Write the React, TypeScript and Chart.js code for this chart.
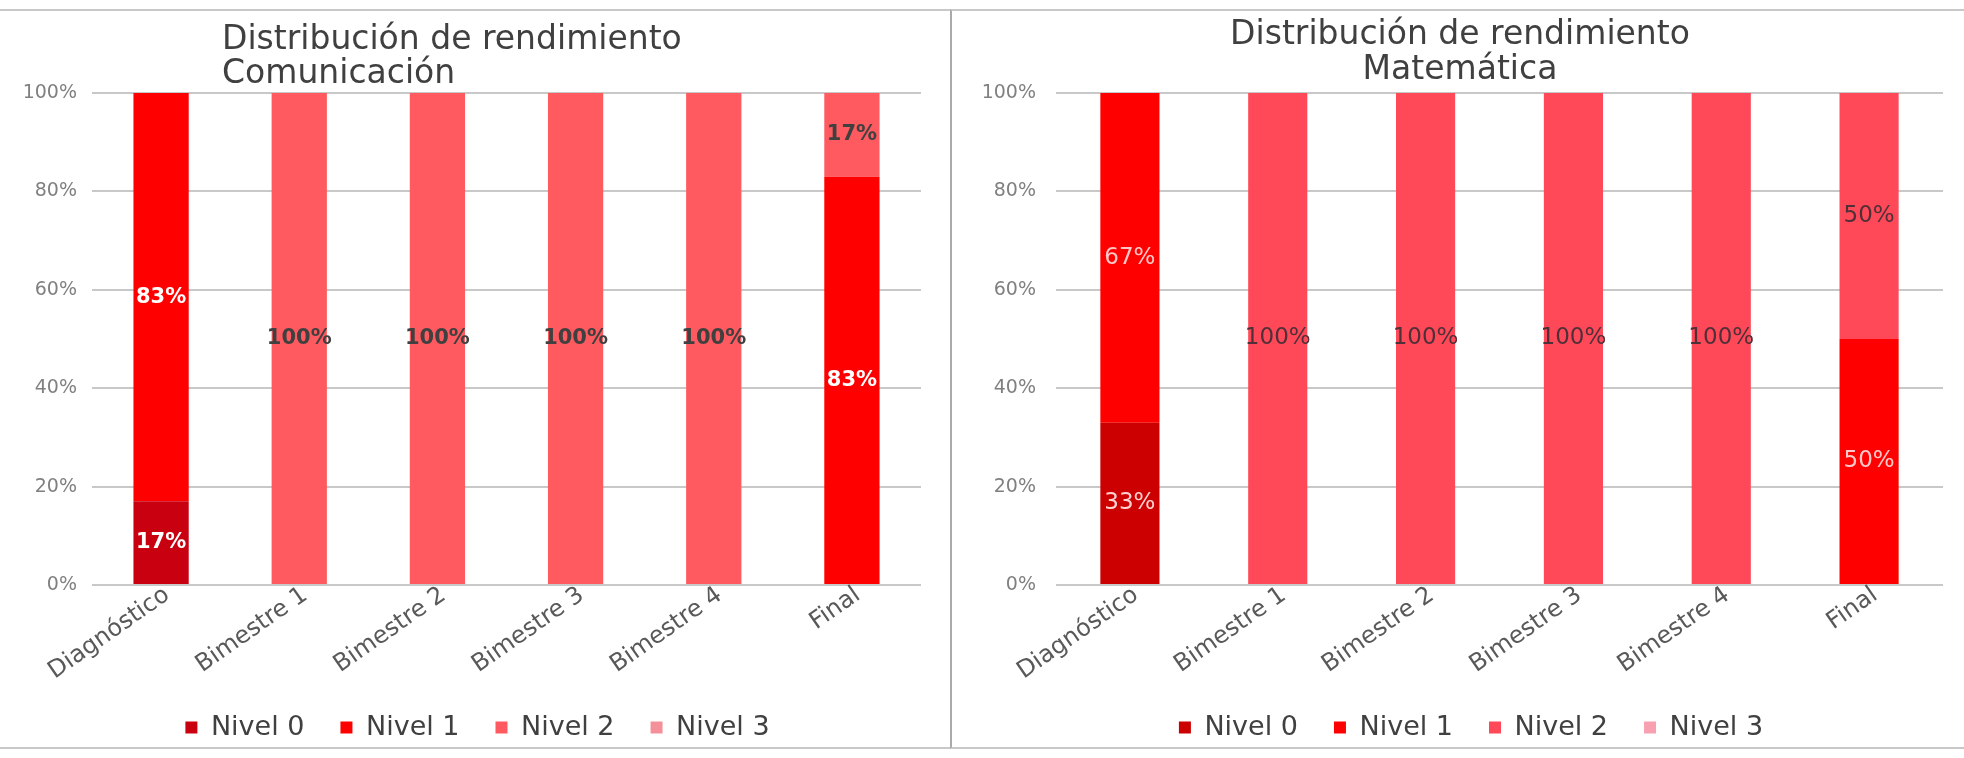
import { useEffect, useRef } from 'react';
import { Chart, registerables } from 'chart.js';

Chart.register(...registerables);

// ---------- data ----------
const categories = ['Diagnóstico', 'Bimestre 1', 'Bimestre 2', 'Bimestre 3', 'Bimestre 4', 'Final'];
const levelNames = ['Nivel 0', 'Nivel 1', 'Nivel 2', 'Nivel 3'];

const comTitle = ['Distribución de rendimiento', 'Comunicación'];
const comNivel0 = [17, 0, 0, 0, 0, 0];
const comNivel1 = [83, 0, 0, 0, 0, 83];
const comNivel2 = [0, 100, 100, 100, 100, 17];
const comNivel3 = [0, 0, 0, 0, 0, 0];

const matTitle = ['Distribución de rendimiento', 'Matemática'];
const matNivel0 = [33, 0, 0, 0, 0, 0];
const matNivel1 = [67, 0, 0, 0, 0, 50];
const matNivel2 = [0, 100, 100, 100, 100, 50];
const matNivel3 = [0, 0, 0, 0, 0, 0];

const yMin = 0;
const yMax = 100;
const yStep = 20;

// ---------- styles ----------
const FONT = 'DejaVu Sans';
const comColors = ['#C80010', '#FF0000', '#FF5A5F', '#F4909A'];
const matColors = ['#CC0000', '#FF0000', '#FF4858', '#F7A1B0'];
const comLabelColors = ['#FFFFFF', '#FFFFFF', '#404040', '#404040'];
const matLabelColors = ['#FFD0D0', '#FFC8C8', '#503038', '#503038'];

type PanelProps = {
  width: number;
  height: number;
  title: string[];
  titleAlign: 'left' | 'center';
  titleX: number;
  titleBaselines: number[];
  series: number[][];
  colors: string[];
  labelColors: string[];
  labelFont: string;
  padLeft: number;
  yAxisWidth: number;
  padRight: number;
  yTickPad: number;
};

function StackPanel(p: PanelProps) {
  const ref = useRef<HTMLCanvasElement>(null);
  useEffect(() => {
    const titlePlugin = {
      id: 'panelTitle',
      afterDraw(chart: any) {
        const ctx = chart.ctx as CanvasRenderingContext2D;
        ctx.save();
        ctx.font = `33px "${FONT}"`;
        ctx.fillStyle = '#404040';
        ctx.textAlign = p.titleAlign;
        ctx.textBaseline = 'alphabetic';
        p.title.forEach((line, i) => ctx.fillText(line, p.titleX, p.titleBaselines[i]));
        ctx.restore();
      },
    };
    const labelPlugin = {
      id: 'segLabels',
      afterDatasetsDraw(chart: any) {
        const ctx = chart.ctx as CanvasRenderingContext2D;
        ctx.save();
        ctx.textAlign = 'center';
        ctx.textBaseline = 'middle';
        ctx.font = p.labelFont;
        chart.data.datasets.forEach((ds: any, di: number) => {
          const meta = chart.getDatasetMeta(di);
          if (meta.hidden) return;
          meta.data.forEach((el: any, i: number) => {
            const v = ds.data[i];
            if (!v) return;
            const { x, y, base } = el.getProps(['x', 'y', 'base'], true);
            ctx.fillStyle = p.labelColors[di];
            ctx.fillText(`${v}%`, x, (y + base) / 2);
          });
        });
        ctx.restore();
      },
    };

    const chart = new Chart(ref.current!, {
      type: 'bar',
      data: {
        labels: categories,
        datasets: levelNames.map((name, i) => ({
          label: name,
          data: p.series[i],
          backgroundColor: p.colors[i],
          borderWidth: 0,
          barPercentage: 0.4,
          categoryPercentage: 1,
        })),
      },
      options: {
        animation: false,
        responsive: false,
        layout: { padding: { top: 82, left: p.padLeft, right: p.padRight, bottom: -4 } },
        plugins: {
          title: { display: false },
          tooltip: { enabled: false },
          legend: {
            display: true,
            position: 'bottom',
            labels: {
              boxWidth: 12,
              boxHeight: 12,
              padding: 36,
              color: '#404040',
              font: { family: FONT, size: 27 },
            },
          },
        },
        scales: {
          x: {
            stacked: true,
            grid: { display: false },
            border: { display: false },
            ticks: {
              autoSkip: false,
              maxRotation: 35,
              minRotation: 35,
              padding: -12,
              labelOffset: 6,
              color: '#595959',
              font: { family: FONT, size: 24 },
            },
            afterFit(scale: any) {
              scale.height = 93;
              scale._computeLabelArea = () => undefined;
            },
          },
          y: {
            stacked: true,
            min: yMin,
            max: yMax,
            grid: { color: '#C8C8C8', lineWidth: 2, drawTicks: false },
            border: { display: false },
            ticks: {
              stepSize: yStep,
              padding: p.yTickPad,
              color: '#808080',
              font: { family: FONT, size: 19 },
              callback: (v: any) => `${v}%`,
            },
            afterFit(scale: any) {
              scale.width = p.yAxisWidth;
              scale._computeLabelArea = () => undefined;
            },
          },
        },
      },
      plugins: [titlePlugin, labelPlugin],
    });
    return () => chart.destroy();
  }, []);
  return (
    <canvas
      ref={ref}
      width={p.width}
      height={p.height}
      style={{ display: 'block', width: p.width, height: p.height }}
    />
  );
}

export default function App() {
  useEffect(() => {
    document.body.style.margin = '0';
  }, []);
  const border = '2px solid #C8C8C8';
  return (
    <div style={{ position: 'relative', width: 1964, height: 758, background: '#fff', overflow: 'hidden' }}>
      <div
        style={{
          position: 'absolute', left: 0, top: 9, width: 950, height: 740,
          borderTop: border, borderBottom: border, boxSizing: 'border-box',
        }}
      >
        <StackPanel
          width={950}
          height={736}
          title={comTitle}
          titleAlign="left"
          titleX={222}
          titleBaselines={[38, 72]}
          series={[comNivel0, comNivel1, comNivel2, comNivel3]}
          colors={comColors}
          labelColors={comLabelColors}
          labelFont={`bold 21px "${FONT}"`}
          padLeft={34}
          yAxisWidth={58}
          padRight={29}
          yTickPad={15}
        />
      </div>
      <div
        style={{
          position: 'absolute', left: 950, top: 9, width: 1014, height: 740,
          borderTop: border, borderBottom: border, borderLeft: '2px solid #AAAAAA', boxSizing: 'border-box',
        }}
      >
        <StackPanel
          width={1012}
          height={736}
          title={matTitle}
          titleAlign="center"
          titleX={508}
          titleBaselines={[33, 68]}
          series={[matNivel0, matNivel1, matNivel2, matNivel3]}
          colors={matColors}
          labelColors={matLabelColors}
          labelFont={`23px "${FONT}"`}
          padLeft={47}
          yAxisWidth={57}
          padRight={21}
          yTickPad={20}
        />
      </div>
    </div>
  );
}
